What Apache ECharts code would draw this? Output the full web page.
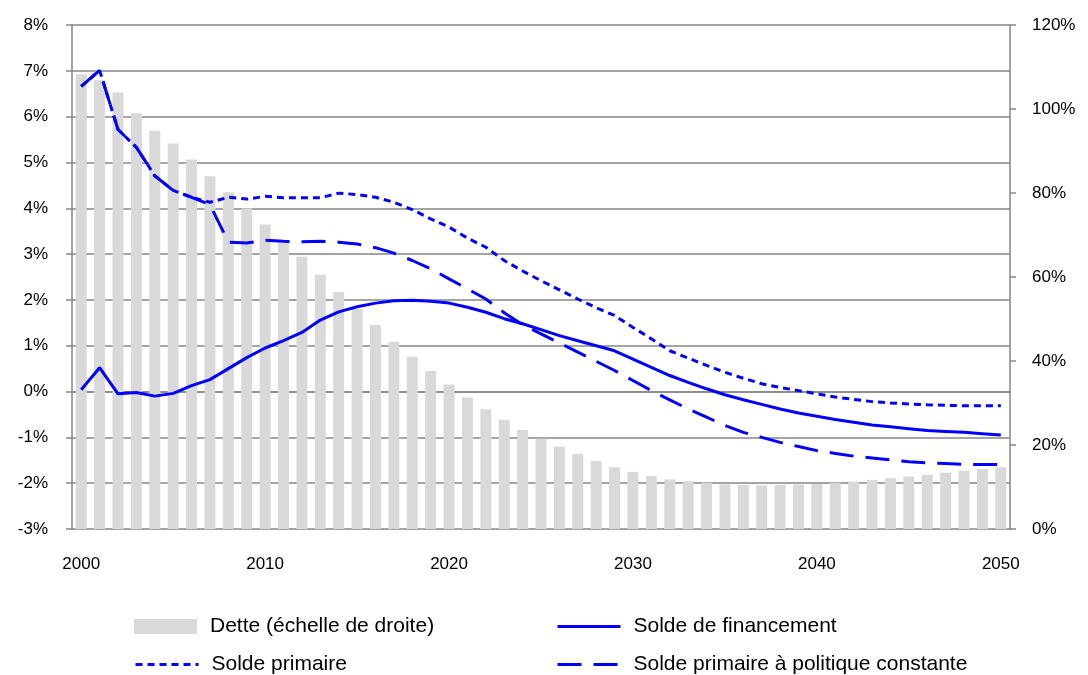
<!DOCTYPE html>
<html>
<head>
<meta charset="utf-8">
<script src="https://cdn.jsdelivr.net/npm/echarts@6/dist/echarts.min.js"></script>
<style>
  html, body { margin: 0; padding: 0; background: #fff; }
  #chart { width: 1088px; height: 675px; }
</style>
</head>
<body>
<div id="chart"></div>
<script>
var years = [];
for (var y = 2000; y <= 2050; y++) years.push(String(y));

// Dette, % du PIB (échelle de droite)
var dette = [
  108.3, 106.9, 103.9, 99.0, 94.8, 91.8, 88.0, 84.0, 80.2, 76.3,
  72.5, 68.6, 64.8, 60.6, 56.4, 52.4, 48.6, 44.6, 41.0, 37.6,
  34.4, 31.3, 28.5, 26.0, 23.6, 21.5, 19.6, 17.9, 16.2, 14.7,
  13.6, 12.6, 11.8, 11.4, 11.0, 10.6, 10.5, 10.4, 10.5, 10.6,
  10.7, 11.0, 11.3, 11.7, 12.1, 12.5, 12.9, 13.4, 13.9, 14.3, 14.7
];
var soldeFinancement = [
  0.04, 0.52, -0.05, -0.02, -0.10, -0.04, 0.13, 0.26, 0.50, 0.74,
  0.95, 1.11, 1.29, 1.56, 1.74, 1.85, 1.93, 1.98, 1.99, 1.97,
  1.93, 1.84, 1.73, 1.59, 1.48, 1.35, 1.22, 1.11, 1.00, 0.89,
  0.71, 0.53, 0.35, 0.20, 0.06, -0.07, -0.18, -0.28, -0.38, -0.47,
  -0.54, -0.61, -0.67, -0.73, -0.77, -0.81, -0.85, -0.87, -0.89, -0.92, -0.95
];
var soldePrimaire = [
  6.66, 7.01, 5.72, 5.33, 4.71, 4.39, 4.24, 4.13, 4.24, 4.20,
  4.26, 4.23, 4.23, 4.23, 4.33, 4.30, 4.24, 4.13, 3.97, 3.77,
  3.59, 3.35, 3.15, 2.86, 2.63, 2.42, 2.22, 2.02, 1.83, 1.66,
  1.40, 1.15, 0.89, 0.73, 0.57, 0.42, 0.29, 0.17, 0.09, 0.02,
  -0.05, -0.12, -0.17, -0.22, -0.25, -0.27, -0.29, -0.30, -0.31, -0.31, -0.31
];
var soldePolConst = [
  6.66, 7.01, 5.72, 5.33, 4.71, 4.39, 4.24, 4.08, 3.26, 3.24,
  3.30, 3.28, 3.27, 3.28, 3.26, 3.22, 3.14, 3.02, 2.86, 2.68,
  2.46, 2.24, 2.02, 1.72, 1.46, 1.26, 1.06, 0.86, 0.66, 0.46,
  0.24, 0.02, -0.18, -0.38, -0.56, -0.74, -0.89, -1.00, -1.11, -1.20,
  -1.29, -1.35, -1.41, -1.45, -1.49, -1.53, -1.56, -1.57, -1.59, -1.59, -1.59
];

var chart = echarts.init(document.getElementById('chart'));
var font = 'Liberation Sans, Arial, sans-serif';
var grey = '#868686';
var blue = '#0000ff';

// one legend per entry, placed like the 2x2 block of the original
function legendAt(name, left, top, isLine) {
  var l = {
    left: left, top: top, padding: 0,
    itemWidth: 63, itemHeight: 15,
    textStyle: { fontSize: 21, color: '#000', fontFamily: font, padding: [0, 0, 0, 8] },
    data: [name]
  };
  if (isLine) {
    l.itemStyle = { opacity: 0 };
    l.lineStyle = { width: 3 };
  } else {
    l.icon = 'rect';
  }
  return l;
}

var option = {
  animation: false,
  textStyle: { fontFamily: font },
  grid: { left: 72, right: 78, top: 25, bottom: 146, containLabel: false },
  legend: [
    legendAt('Dette (échelle de droite)', 134, 616, false),
    legendAt('Solde de financement', 556, 616, true),
    legendAt('Solde primaire', 134, 654, true),
    legendAt('Solde primaire à politique constante', 556, 654, true)
  ],
  xAxis: {
    type: 'category',
    data: years,
    boundaryGap: true,
    axisLine: { lineStyle: { color: grey, width: 1.5 } },
    axisTick: { show: false },
    axisLabel: {
      interval: 9, color: '#000', fontSize: 17, margin: 27, fontFamily: font
    }
  },
  yAxis: [{
    type: 'value', min: -3, max: 8, interval: 1,
    axisLine: { show: true, lineStyle: { color: grey, width: 1.5 } },
    axisTick: { show: true, length: 6, lineStyle: { color: grey, width: 1.5 } },
    splitLine: { lineStyle: { color: grey, width: 1.5 } },
    axisLabel: { formatter: '{value}%', color: '#000', fontSize: 17, margin: 24, fontFamily: font }
  }, {
    type: 'value', min: 0, max: 120, interval: 20,
    axisLine: { show: true, lineStyle: { color: grey, width: 1.5 } },
    axisTick: { show: true, length: 6, lineStyle: { color: grey, width: 1.5 } },
    splitLine: { show: false },
    axisLabel: { formatter: '{value}%', color: '#000', fontSize: 17, margin: 22, fontFamily: font }
  }],
  series: [{
    name: 'Dette (échelle de droite)',
    type: 'bar',
    yAxisIndex: 1,
    data: dette,
    barWidth: 11,
    itemStyle: { color: '#d9d9d9' },
    z: 1
  }, {
    name: 'Solde de financement',
    type: 'line',
    data: soldeFinancement,
    symbol: 'none',
    lineStyle: { color: blue, width: 3 },
    itemStyle: { color: blue },
    z: 5
  }, {
    name: 'Solde primaire',
    type: 'line',
    data: soldePrimaire,
    symbol: 'none',
    lineStyle: { color: blue, width: 3, type: [7, 5] },
    itemStyle: { color: blue },
    z: 5
  }, {
    name: 'Solde primaire à politique constante',
    type: 'line',
    data: soldePolConst,
    symbol: 'none',
    lineStyle: { color: blue, width: 3, type: [24, 12] },
    itemStyle: { color: blue },
    z: 5
  }]
};
chart.setOption(option);
window.onresize = chart.resize;
</script>
</body>
</html>
